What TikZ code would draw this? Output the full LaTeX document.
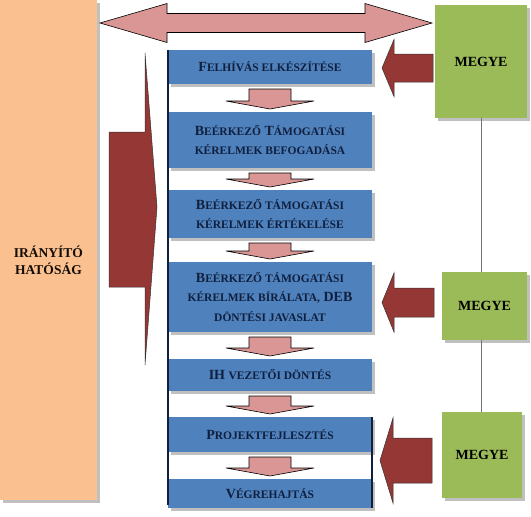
\documentclass[tikz,border=0pt]{standalone}
\usepackage{fontspec}
\setmainfont{Liberation Serif}
\usetikzlibrary{positioning}
\usetikzlibrary{calc}
\usetikzlibrary{shadows}

\definecolor{ihnarancs}{HTML}{FAC090}
\definecolor{megyezold}{HTML}{9BBB59}
\definecolor{lepeskek}{HTML}{4F81BD}
\definecolor{sotetkek}{HTML}{0F1F3D}
\definecolor{rozsa}{HTML}{D99694}
\definecolor{bordo}{HTML}{953735}

% small caps by hand
\newcommand\kis[1]{{\fontsize{11.5}{19.5}\selectfont #1}}

% pink arrow between two steps
\newcommand\lefele[2]{%
  \draw[rozsanyil] ($(#1.south)+(-21,-5)$) -- ($(#1.south)+(21,-5)$) -- ($(#2.north)+(21,11)$) -- ($(#2.north)+(44,11)$) -- ($(#2.north)+(0,3)$) -- ($(#2.north)+(-44,11)$) -- ($(#2.north)+(-21,11)$) -- cycle;}

% dark red arrow pointing left: end point, shaft length, head length, shaft half, head half
\newcommand\balra[5]{%
  \draw[bordonyil] ($(#1)+(0,#4)$) -- ++(-#2,0) -- ++(0,{#5-#4}) -- ++(-#3,-#5) -- ++(#3,-#5) -- ++(0,{#5-#4}) -- ++(#2,0) -- cycle;}

\begin{document}
\begin{tikzpicture}[x=1pt, y=1pt,
    arnyek/.style={drop shadow={shadow xshift=2.5pt, shadow yshift=-3pt, opacity=.55, fill=black!45}},
    lepes/.style={fill=lepeskek, text=sotetkek, font=\bfseries\fontsize{14}{19.5}\selectfont, minimum width=204pt, inner sep=0pt, outer sep=0pt, align=center, arnyek},
    megye/.style={fill=megyezold, font=\bfseries\fontsize{14}{17}\selectfont, inner sep=0pt, outer sep=0pt, arnyek},
    rozsanyil/.style={fill=rozsa, draw=black, line width=0.6pt, line join=miter},
    bordonyil/.style={fill=bordo, draw=black!80, line width=0.5pt},
    vonal/.style={draw=sotetkek, line width=2pt}]

    \useasboundingbox (0,0) rectangle (531,-517);

    % left column
    \node[fill=ihnarancs, minimum width=97pt, minimum height=500pt, inner sep=0pt, outer sep=0pt, arnyek,
        label={[font=\bfseries\fontsize{13.5}{17}\selectfont, text=black!90!brown, align=center, yshift=-10pt]center:IRÁNYÍTÓ\\HATÓSÁG}]
        (ih) at (48.5,-250) {};

    % steps
    \node[lepes, minimum height=34pt] (b1) at (270,-67) {F\kis{ELHÍVÁS ELKÉSZÍTÉSE}};
    \node[lepes, minimum height=56pt, below=28pt of b1] (b2) {B\kis{EÉRKEZŐ} T\kis{ÁMOGATÁSI}\\\kis{KÉRELMEK BEFOGADÁSA}};
    \node[lepes, minimum height=48pt, below=22pt of b2] (b3) {B\kis{EÉRKEZŐ TÁMOGATÁSI}\\\kis{KÉRELMEK ÉRTÉKELÉSE}};
    \node[lepes, minimum height=70pt, below=24pt of b3] (b4) {B\kis{EÉRKEZŐ TÁMOGATÁSI}\\\kis{KÉRELMEK BÍRÁLATA,} DEB\\\kis{DÖNTÉSI JAVASLAT}};
    \node[lepes, minimum height=32pt, below=27pt of b4] (b5) {IH \kis{VEZETŐI DÖNTÉS}};
    \node[lepes, minimum height=35pt, below=26pt of b5] (b6) {P\kis{ROJEKTFEJLESZTÉS}};
    \node[lepes, minimum height=29pt, below=27pt of b6] (b7) {V\kis{ÉGREHAJTÁS}};

    \foreach \a/\b in {b1/b2, b2/b3, b3/b4, b4/b5, b5/b6, b6/b7}
        \lefele{\a}{\b};

    \draw[vonal] (b1.north west) -- ($(b7.south west)+(0,3)$);
    \draw[vonal] (b6.north east) -- (b7.south east);

    % counties
    \node[megye, minimum width=92pt, minimum height=113pt] (m1) at (481,-61.5) {MEGYE};
    \node[megye, minimum width=85pt, minimum height=68pt] (m2) at (484.5,-306) {MEGYE};
    \node[megye, minimum width=80pt, minimum height=86pt] (m3) at (482,-455) {MEGYE};

    \draw[black!55, line width=0.8pt] (m1.south) -- (m1.south |- m2.north);
    \draw[black!55, line width=0.8pt] (m1.south |- m2.south) -- (m1.south |- m3.north);

    \coordinate (a1) at (433,-68);
    \coordinate (a2) at (434,-302.5);
    \coordinate (a3) at (432,-460.5);
    \balra{a1}{39}{12}{14}{28.5}
    \balra{a2}{40}{12}{14.5}{29.5}
    \balra{a3}{39}{13}{22.5}{42.5}

    % double arrow on top
    \draw[rozsanyil] (100,-23) -- (167,-3.5) -- (167,-13.5) -- (365,-13.5) -- (365,-3.5) -- (432,-23)
        -- (365,-42.5) -- (365,-32.5) -- (167,-32.5) -- (167,-42.5) -- cycle;

    % big arrow from IH to the steps
    \draw[bordonyil] (109,-132) -- (145,-132) -- (145,-53) -- (157,-207) -- (145,-365) -- (145,-287) -- (109,-287) -- cycle;
\end{tikzpicture}
\end{document}
